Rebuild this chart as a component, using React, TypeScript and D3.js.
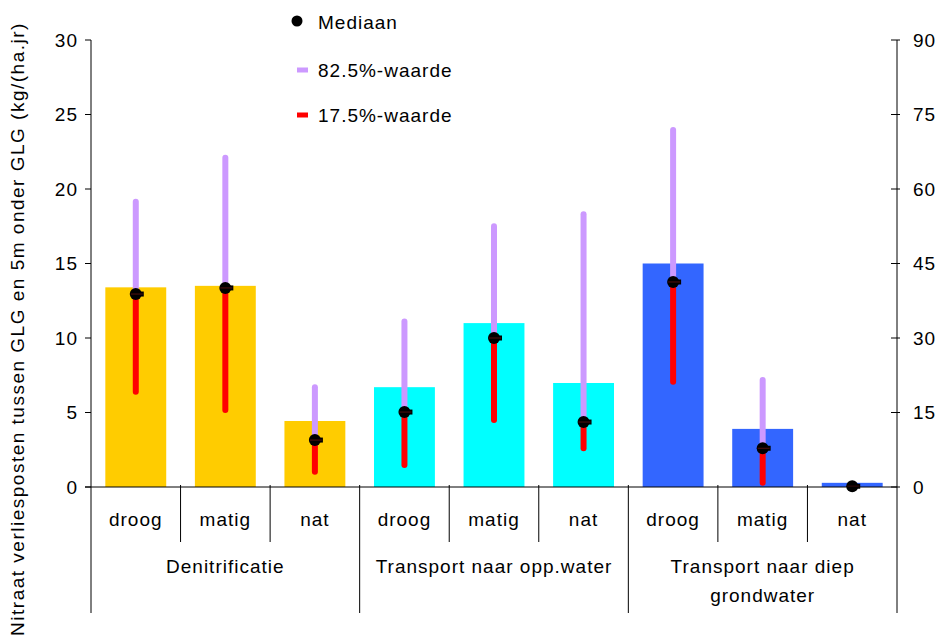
import React from "react";
import * as d3 from "d3";

const groups = ["Denitrificatie", "Transport naar opp.water", "Transport naar diep grondwater"];
const groupLines = [["Denitrificatie"], ["Transport naar opp.water"], ["Transport naar diep", "grondwater"]];
const classes = ["droog", "matig", "nat"];
const barValues = [13.4, 13.5, 4.43, 6.7, 11.0, 6.98, 15.0, 3.9, 0.28];
const medianValues = [12.95, 13.36, 3.15, 5.03, 10.0, 4.36, 13.76, 2.6, 0.05];
const p825Values = [19.15, 22.1, 6.69, 11.1, 17.5, 18.3, 23.96, 7.18, 0.05];
const p175Values = [6.4, 5.17, 1.03, 1.48, 4.5, 2.6, 7.07, 0.29, 0.05];
const groupColors = ["#FFCC00", "#00FFFF", "#3366FF"];
const leftTicks = [0, 5, 10, 15, 20, 25, 30];
const rightTicks = [0, 15, 30, 45, 60, 75, 90];
const yTitle = "Nitraat verliesposten tussen GLG en 5m onder GLG (kg/(ha.jr)";
const legendLabels = ["Mediaan", "82.5%-waarde", "17.5%-waarde"];

const W = 941;
const H = 639;
const left = 91;
const right = 897;
const top = 40;
const bottom = 487;
const font = "'Liberation Sans', Arial, sans-serif";
const purple = "#CC99FF";
const red = "#FF0000";
const fs = 19;
const ls = 1;

export default function App() {
  const n = barValues.length;
  const x = d3.scaleBand<number>().domain(d3.range(n)).range([left, right]).paddingInner(0.32).paddingOuter(0.16);
  const cell = d3.scaleBand<number>().domain(d3.range(n)).range([left, right]);
  const y = d3.scaleLinear().domain([0, 30]).range([bottom, top]);
  const yR = d3.scaleLinear().domain([0, 90]).range([bottom, top]);
  const groupScale = d3.scaleBand<number>().domain(d3.range(groups.length)).range([left, right]);

  return (
    <svg width={W} height={H} style={{ position: "absolute", left: 0, top: 0, background: "#fff" }} fontFamily={font}>
      <rect x={0} y={0} width={W} height={H} fill="#fff" />
      {/* bars */}
      {barValues.map((v, i) => (
        <rect key={"b" + i} x={x(i)!} y={y(v)} width={x.bandwidth()} height={y(0) - y(v)} fill={groupColors[Math.floor(i / 3)]} />
      ))}
      {/* whiskers */}
      {barValues.map((_, i) => {
        const cx = x(i)! + x.bandwidth() / 2;
        return (
          <g key={"w" + i}>
            <line x1={cx} x2={cx} y1={y(medianValues[i])} y2={y(p825Values[i])} stroke={purple} strokeWidth={6} strokeLinecap="round" />
            <line x1={cx} x2={cx} y1={y(medianValues[i])} y2={y(p175Values[i])} stroke={red} strokeWidth={6} strokeLinecap="round" />
          </g>
        );
      })}
      {/* medians */}
      {medianValues.map((v, i) => {
        const cx = x(i)! + x.bandwidth() / 2;
        return (
          <g key={"m" + i}>
            <circle cx={cx} cy={y(v)} r={6} fill="#000" />
            <rect x={cx} y={y(v) - 2.5} width={8} height={5} fill="#000" />
            <line x1={cx - 5} x2={cx + 7} y1={y(v)} y2={y(v)} stroke="#8b1a1a" strokeWidth={0.6} />
          </g>
        );
      })}
      {/* left axis */}
      <line x1={left} x2={left} y1={top} y2={613} stroke="#000" strokeWidth={1} />
      {leftTicks.map((t) => (
        <g key={"lt" + t}>
          <line x1={left - 6} x2={left} y1={y(t)} y2={y(t)} stroke="#000" />
          <text x={left - 13} y={y(t)} dy="0.35em" textAnchor="end" fontSize={fs} letterSpacing={ls} fill="#000">{t}</text>
        </g>
      ))}
      {/* right axis */}
      <line x1={right} x2={right} y1={top} y2={613} stroke="#000" strokeWidth={1} />
      {rightTicks.map((t) => (
        <g key={"rt" + t}>
          <line x1={right - 6} x2={right + 3} y1={yR(t)} y2={yR(t)} stroke="#000" />
          <text x={right + 16} y={yR(t)} dy="0.35em" textAnchor="start" fontSize={fs} letterSpacing={ls} fill="#000">{t}</text>
        </g>
      ))}
      {/* x axis */}
      <line x1={left - 6} x2={right} y1={bottom} y2={bottom} stroke="#000" strokeWidth={1} />
      {d3.range(1, n).map((i) => {
        const xx = cell(i)!;
        const isGroup = i % 3 === 0;
        return <line key={"s" + i} x1={xx} x2={xx} y1={bottom - 2} y2={isGroup ? 613 : 542} stroke="#000" />;
      })}
      {barValues.map((_, i) => (
        <text key={"c" + i} x={cell(i)! + cell.bandwidth() / 2} y={519} dy="0.35em" textAnchor="middle" fontSize={fs} letterSpacing={ls} fill="#000">
          {classes[i % 3]}
        </text>
      ))}
      {groupLines.map((lines, g) => (
        <text key={"g" + g} x={groupScale(g)! + groupScale.bandwidth() / 2} y={566} textAnchor="middle" fontSize={fs} letterSpacing={ls} fill="#000">
          {lines.map((l, k) => (
            <tspan key={k} x={groupScale(g)! + groupScale.bandwidth() / 2} dy={k === 0 ? "0.35em" : "1.52em"}>{l}</tspan>
          ))}
        </text>
      ))}
      {/* y title */}
      <text transform={`translate(17,329) rotate(-90)`} textAnchor="middle" dy="0.35em" fontSize={fs} letterSpacing={1.5} fill="#000">{yTitle}</text>
      {/* legend */}
      <circle cx={297} cy={21} r={5.5} fill="#000" />
      <text x={318} y={22} dy="0.35em" fontSize={fs} letterSpacing={ls} fill="#000">{legendLabels[0]}</text>
      <line x1={297} x2={308} y1={70} y2={70} stroke={purple} strokeWidth={5} />
      <text x={318} y={70} dy="0.35em" fontSize={fs} letterSpacing={ls} fill="#000">{legendLabels[1]}</text>
      <line x1={297} x2={308} y1={115} y2={115} stroke={red} strokeWidth={5} />
      <text x={318} y={115} dy="0.35em" fontSize={fs} letterSpacing={ls} fill="#000">{legendLabels[2]}</text>
    </svg>
  );
}
